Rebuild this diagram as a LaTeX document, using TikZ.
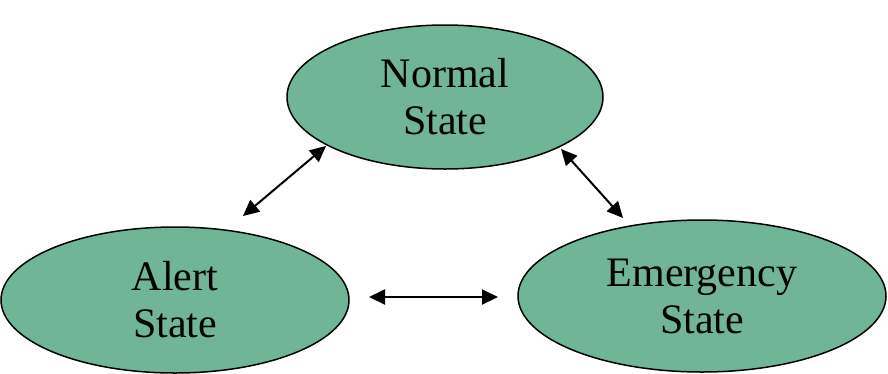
\documentclass[tikz,border=0pt]{standalone}
\usepackage{fontspec}
\setmainfont{Liberation Serif}
\usetikzlibrary{shapes.geometric,arrows.meta}

\definecolor{stategreen}{RGB}{112,182,150}

\tikzset{
  state/.style={ellipse, draw=black, line width=1.5pt, fill=stategreen,
    inner sep=0pt, align=center, font=\fontsize{42}{47}\selectfont},
  link/.style={line width=2pt, {Triangle[length=16pt,width=15pt]}-{Triangle[length=16pt,width=15pt]}}
}

\begin{document}
\begin{tikzpicture}[x=1pt, y=-1pt]
  \useasboundingbox (0,0) rectangle (888,373);
  \node[state, minimum width=316pt, minimum height=144pt] (normal) at (445,97) {Normal\\State};
  \node[state, minimum width=348pt, minimum height=146pt] (alert) at (175,300) {Alert\\State};
  \node[state, minimum width=368pt, minimum height=152pt] (emergency) at (702,296) {Emergency\\State};
  \coordinate (na) at (326,146);
  \coordinate (an) at (243,216);
  \coordinate (ne) at (561,149);
  \coordinate (en) at (623,218);
  \coordinate (ae) at (369,297);
  \coordinate (ea) at (498,297);
  \draw[link] (an)--(na);
  \draw[link] (ne)--(en);
  \draw[link] (ae)--(ea);
\end{tikzpicture}
\end{document}
